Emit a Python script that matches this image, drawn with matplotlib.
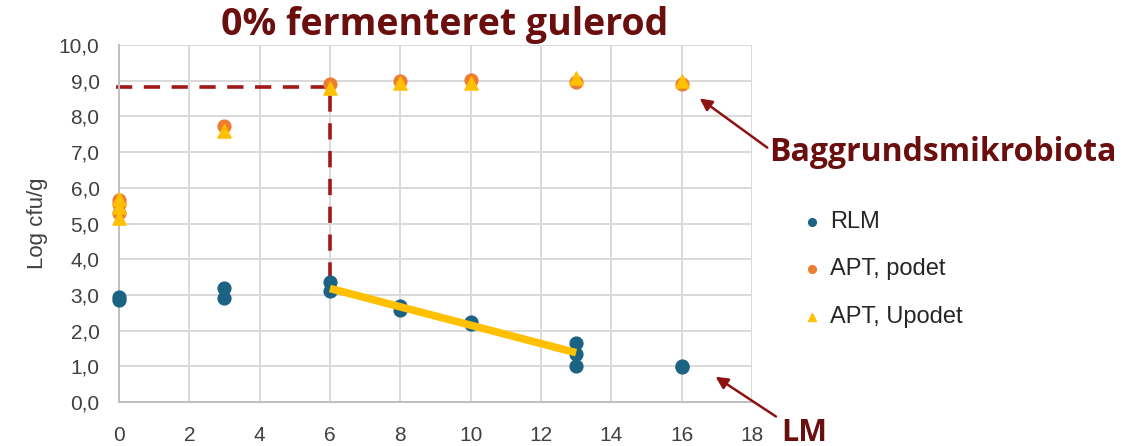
import matplotlib.pyplot as plt
import matplotlib.ticker as mticker

# days and log cfu/g values
rlm_x = [0, 0, 3, 3, 6, 6, 8, 8, 10, 10, 13, 13, 13, 16, 16]
rlm_y = [2.85, 2.95, 3.2, 2.9, 3.35, 3.1, 2.68, 2.57, 2.25, 2.18, 1.65, 1.35, 1.0, 1.0, 0.98]

podet_x = [0, 0, 0, 3, 6, 8, 10, 13, 16]
podet_y = [5.3, 5.55, 5.65, 7.72, 8.9, 9.0, 9.02, 8.97, 8.9]

upodet_x = [0, 0, 0, 3, 6, 8, 10, 13, 16]
upodet_y = [5.15, 5.45, 5.7, 7.6, 8.8, 8.95, 8.95, 9.07, 8.98]

trend_x = [6, 13]
trend_y = [3.18, 1.38]

guide_x = [-0.08, 6, 6]
guide_y = [8.83, 8.83, 3.35]

x_ticks = list(range(0, 19, 2))
y_ticks = list(range(0, 11))

dark_red = "#6B0E0E"
arrow_red = "#8E1212"

fig = plt.figure(figsize=(11.41, 4.46), dpi=100)
ax = fig.add_axes([0.1043, 0.0987, 0.5547, 0.8003])

ax.plot(guide_x, guide_y, color="#A01818", lw=2.6, ls=(0, (4.5, 3.2)), zorder=2, clip_on=False)
ax.scatter(podet_x, podet_y, s=85, color="#ED7D31", marker="o", zorder=3, label="APT, podet", clip_on=False)
ax.scatter(upodet_x, upodet_y, s=90, color="#FFC000", marker="^", zorder=4, label="APT, Upodet", clip_on=False)
ax.scatter(rlm_x, rlm_y, s=85, color="#1B6283", marker="o", zorder=3, label="RLM", clip_on=False)
ax.plot(trend_x, trend_y, color="#FFC000", lw=5.5, solid_capstyle="butt", zorder=5)

ax.set_xlim(0, 18)
ax.set_ylim(0, 10)
ax.set_xticks(x_ticks)
ax.set_yticks(y_ticks)
ax.yaxis.set_major_formatter(mticker.FuncFormatter(lambda v, p: "{:.1f}".format(v).replace(".", ",")))
ax.grid(True, color="#D9D9D9", lw=1.4)
ax.set_axisbelow(True)
for side in ["top", "right"]:
    ax.spines[side].set_visible(False)
for side in ["left", "bottom"]:
    ax.spines[side].set_color("#BFBFBF")
    ax.spines[side].set_linewidth(1.4)
ax.tick_params(length=0, labelsize=15, colors="#404040")
ax.tick_params(axis="x", pad=17)
ax.tick_params(axis="y", pad=14)
for lab in ax.get_xticklabels() + ax.get_yticklabels():
    lab.set_family("Liberation Sans")
ax.set_ylabel("Log cfu/g", fontsize=16, color="#404040", family="Liberation Sans")
ax.yaxis.set_label_coords(-0.112, 0.5)

fig.text(0.39, 0.945, "0% fermenteret gulerod", ha="center", va="center",
         fontsize=27, fontweight="bold", color=dark_red, family="Open Sans")
fig.text(0.674, 0.659, "Baggrundsmikrobiota", ha="left", va="center",
         fontsize=23, fontweight="bold", color=dark_red, family="Open Sans")
fig.text(0.685, 0.03, "LM", ha="left", va="center",
         fontsize=22, fontweight="bold", color=dark_red, family="Open Sans")

ax.annotate("", xy=(16.45, 8.55), xytext=(18.5, 7.08), annotation_clip=False,
            arrowprops=dict(arrowstyle="-|>", color=arrow_red, lw=1.8, mutation_scale=18))
ax.annotate("", xy=(16.9, 0.75), xytext=(18.75, -0.45), annotation_clip=False,
            arrowprops=dict(arrowstyle="-|>", color=arrow_red, lw=1.8, mutation_scale=18))

handles, labels = ax.get_legend_handles_labels()
order = [2, 0, 1]
leg = fig.legend([handles[i] for i in order], [labels[i] for i in order],
                 loc="upper left", bbox_to_anchor=(0.683, 0.575), frameon=False,
                 markerscale=0.6, handlelength=1.0, handletextpad=0.25, labelspacing=1.08,
                 prop={"family": "Liberation Sans", "size": 17}, labelcolor="#262626")

fig.savefig("out.png", dpi=100)
